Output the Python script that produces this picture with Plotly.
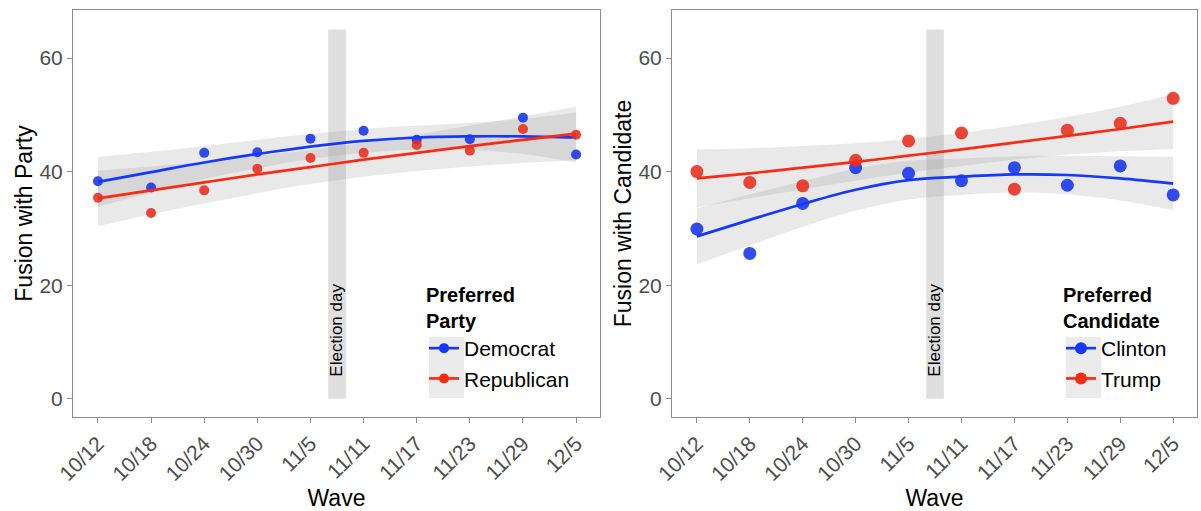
import plotly.graph_objects as go
from plotly.subplots import make_subplots

# ---- data ----
wave_labels = ["10/12", "10/18", "10/24", "10/30", "11/5", "11/11", "11/17", "11/23", "11/29", "12/5"]
wave_days = [0, 6, 12, 18, 24, 30, 36, 42, 48, 54]          # days since 10/12
election_day = [26, 28]                                      # band around 11/8

# wave means
party_democrat = [38.3, 37.2, 43.3, 43.4, 45.8, 47.2, 45.6, 45.7, 49.5, 43.0]
party_republican = [35.4, 32.7, 36.7, 40.5, 42.4, 43.3, 44.7, 43.7, 47.5, 46.5]
cand_clinton = [29.9, 25.6, 34.4, 40.7, 39.7, 38.4, 40.7, 37.6, 41.0, 35.9]
cand_trump = [40.0, 38.1, 37.5, 42.0, 45.4, 46.8, 36.9, 47.3, 48.5, 52.9]

# smoothed fits at each wave and half-width of their 95% bands
fit_democrat = [38.2, 39.9, 41.6, 43.1, 44.4, 45.4, 46.0, 46.2, 46.2, 46.0]
hw_democrat = [4.4, 3.6, 2.9, 2.5, 2.2, 2.1, 2.1, 2.4, 3.1, 4.4]
fit_republican = [35.3, 36.7, 38.1, 39.5, 40.8, 42.1, 43.3, 44.5, 45.6, 46.7]
hw_republican = [4.9, 4.2, 3.7, 3.3, 3.0, 3.0, 3.2, 3.6, 4.1, 4.7]
fit_clinton = [28.6, 31.5, 34.3, 36.8, 38.5, 39.1, 39.5, 39.4, 38.8, 37.9]
hw_clinton = [4.9, 4.5, 4.0, 3.7, 3.4, 3.2, 3.2, 3.4, 3.9, 4.7]
fit_trump = [38.8, 39.7, 40.7, 41.7, 42.8, 43.9, 45.1, 46.3, 47.5, 48.8]
hw_trump = [5.1, 4.4, 3.8, 3.3, 3.0, 2.9, 3.0, 3.3, 3.9, 4.8]

BLUE = "#1538fb"
RED = "#fb2a12"
BLUE_PT = "rgba(28,55,235,0.9)"
RED_PT = "rgba(232,45,30,0.88)"
RIBBON = "rgba(153,153,153,0.21)"
FONT = "Liberation Sans, Arial, sans-serif"

fig = make_subplots(rows=1, cols=2)

panels = [
    (1, [("Democrat", party_democrat, fit_democrat, hw_democrat, BLUE, BLUE_PT),
         ("Republican", party_republican, fit_republican, hw_republican, RED, RED_PT)], "legend", 10),
    (2, [("Clinton", cand_clinton, fit_clinton, hw_clinton, BLUE, BLUE_PT),
         ("Trump", cand_trump, fit_trump, hw_trump, RED, RED_PT)], "legend2", 13),
]

for col, series, leg, msize in panels:
    fig.add_shape(type="rect", x0=election_day[0], x1=election_day[1], y0=0, y1=65,
                  fillcolor="rgba(175,175,175,0.4)", line_width=0, layer="below",
                  row=1, col=col)
    fig.add_annotation(x=sum(election_day) / 2, y=12, text="Election day", textangle=-90,
                       showarrow=False, font=dict(size=17, color="black", family=FONT),
                       row=1, col=col)
    for name, vals, fit, hw, lc, pc in series:
        lo = [f - h for f, h in zip(fit, hw)]
        hi = [f + h for f, h in zip(fit, hw)]
        fig.add_trace(go.Scatter(x=wave_days, y=lo, mode="lines", line=dict(width=0, shape="spline"),
                                 hoverinfo="skip", showlegend=False), row=1, col=col)
        fig.add_trace(go.Scatter(x=wave_days, y=hi, mode="lines", line=dict(width=0, shape="spline"),
                                 fill="tonexty", fillcolor=RIBBON,
                                 hoverinfo="skip", showlegend=False), row=1, col=col)
    for name, vals, fit, hw, lc, pc in series:
        fig.add_trace(go.Scatter(x=wave_days, y=vals, mode="markers",
                                 marker=dict(color=pc, size=msize, line=dict(width=0)),
                                 showlegend=False, name=name), row=1, col=col)
        fig.add_trace(go.Scatter(x=wave_days, y=fit, mode="lines",
                                 line=dict(color=lc, width=2.7, shape="spline"),
                                 showlegend=False, name=name), row=1, col=col)
    for name, vals, fit, hw, lc, pc in series:
        fig.add_trace(go.Scatter(x=[None], y=[None], mode="lines+markers", name=name,
                                 line=dict(color=lc, width=2.7),
                                 marker=dict(color=lc, size=min(msize, 12)),
                                 legend=leg, showlegend=True), row=1, col=col)

W_PLOT = 1201 - 73 - 4
H_PLOT = 511 - 10 - 94
dom1 = [0, (600 - 73) / W_PLOT]
dom2 = [(672 - 73) / W_PLOT, 1.0]

axis_common = dict(showgrid=False, zeroline=False, showline=True, mirror=True, automargin=False,
                   linecolor="#8c8c8c", linewidth=1, ticks="outside", ticklen=5,
                   tickcolor="#8c8c8c", tickfont=dict(size=21, color="#4d4d4d", family=FONT))

for i, dom in ((1, dom1), (2, dom2)):
    fig.update_xaxes(domain=dom, range=[-2.82, 56.7], tickvals=wave_days, ticktext=wave_labels,
                     tickangle=-45,
                     title=dict(text="Wave", font=dict(size=23, color="black", family=FONT), standoff=8),
                     **axis_common, row=1, col=i)
    fig.update_yaxes(range=[-3.2, 68.45], tickvals=[0, 20, 40, 60],
                     title=dict(text="Fusion with Party" if i == 1 else "Fusion with Candidate",
                                font=dict(size=23, color="black", family=FONT), standoff=0),
                     **axis_common, row=1, col=i)


def px_x(p):
    return (p - 73) / W_PLOT


def px_y(p):
    return (417 - p) / H_PLOT


# grey key backgrounds behind the legend symbols
for x0, x1 in ((429, 464), (1066, 1101)):
    fig.add_shape(type="rect", xref="paper", yref="paper",
                  x0=px_x(x0), x1=px_x(x1), y0=px_y(398), y1=px_y(337),
                  fillcolor="#ebebeb", line_width=0, layer="above")

leg_common = dict(bgcolor="rgba(0,0,0,0)", font=dict(size=21, color="black", family=FONT),
                  xanchor="left", yanchor="top", tracegroupgap=0, itemwidth=30,
                  traceorder="normal")

fig.update_layout(
    width=1201, height=511,
    margin=dict(l=73, r=4, t=10, b=94),
    paper_bgcolor="white", plot_bgcolor="white",
    font=dict(family=FONT),
    legend=dict(x=px_x(424), y=px_y(276),
                title=dict(text="<b>Preferred<br>Party</b>", font=dict(size=20, family=FONT)),
                **leg_common),
    legend2=dict(x=px_x(1061), y=px_y(276),
                 title=dict(text="<b>Preferred<br>Candidate</b>", font=dict(size=20, family=FONT)),
                 **leg_common),
)

fig.write_html("out.html", config={"displayModeBar": False},
               post_script="document.body.style.margin='0';document.body.style.overflow='hidden';")
